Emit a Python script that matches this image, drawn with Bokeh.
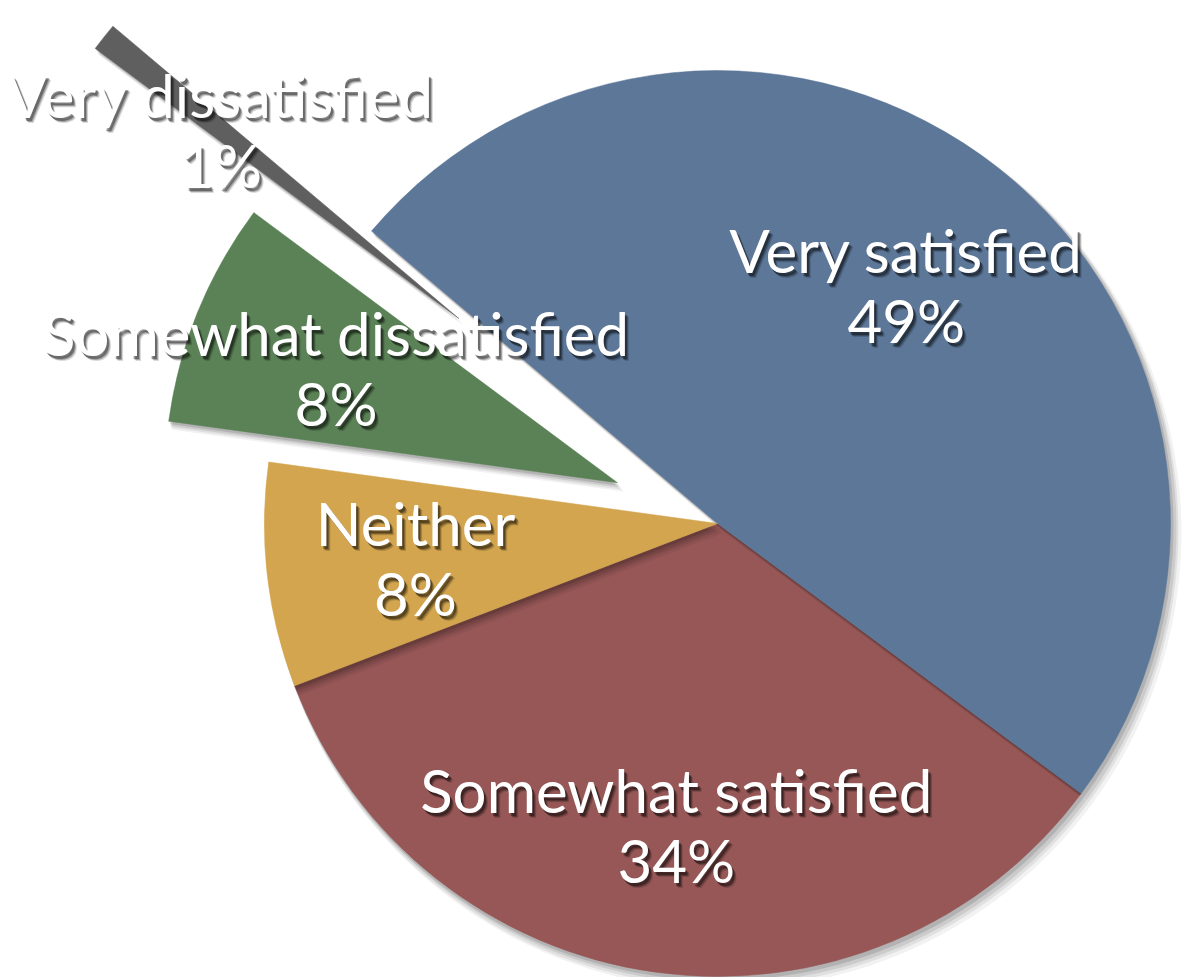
import numpy as np
from bokeh.plotting import figure
from bokeh.models import ColumnDataSource, Range1d
from bokeh.core.properties import value
from bokeh.embed import file_html
from bokeh.resources import INLINE

# ---- data (counter-clockwise order starting at lower left) ----
categories = ["Somewhat satisfied", "Very satisfied", "Very dissatisfied",
              "Somewhat dissatisfied", "Neither"]
percents = [34, 49, 1, 8, 8]
pct_labels = ["34%", "49%", "1%", "8%", "8%"]

# ---- styling ----
colors = ["#975757", "#5c7798", "#5f5f5f", "#5b8256", "#d3a54e"]
explode = [0, 0, 330, 108, 0]          # pixels along the bisector
draw_order = [0, 1, 4, 3, 2]

W, H = 1194, 977
CX, CY = 717, 454        # pie centre in data (pixel) units
R = 453
START_DEG = -159.0
LABEL_R = 304
LINE_GAP = 35
FONT = "Lato"
FSIZE = "60px"

total = float(sum(percents))
ends = START_DEG + np.cumsum(percents) / total * 360.0
starts = np.concatenate([[START_DEG], ends[:-1]])
mids = np.deg2rad((starts + ends) / 2.0)
cx = CX + np.array(explode) * np.cos(mids)
cy = CY + np.array(explode) * np.sin(mids)
lx = cx + LABEL_R * np.cos(mids)
ly = cy + LABEL_R * np.sin(mids)

p = figure(width=W, height=H, output_backend="svg", toolbar_location=None,
           x_range=Range1d(0, W), y_range=Range1d(0, H), min_border=0)
p.axis.visible = False
p.grid.visible = False
p.outline_line_color = None
p.background_fill_color = "white"
p.border_fill_color = "white"

shadow_layers = [(7, -9, 4, 0.05), (5, -7, 3, 0.07), (4, -5, 2, 0.09), (2, -3, 1, 0.12)]

for i in draw_order:
    src = ColumnDataSource(dict(x=[cx[i]], y=[cy[i]],
                                s=[np.deg2rad(starts[i])], e=[np.deg2rad(ends[i])]))
    for dx, dy, dr, a in shadow_layers:
        p.wedge(x=dx + cx[i], y=dy + cy[i], radius=R + dr,
                start_angle=np.deg2rad(starts[i]), end_angle=np.deg2rad(ends[i]),
                fill_color="black", fill_alpha=a, line_color=None)
    p.wedge(x="x", y="y", radius=R, start_angle="s", end_angle="e", source=src,
            fill_color=colors[i], line_color=colors[i], line_width=0.5)

lab = ColumnDataSource(dict(x=lx, y1=ly + LINE_GAP, y2=ly - LINE_GAP,
                            name=categories, pct=pct_labels))

text_shadows = [(4, -5, 0.15), (3, -4, 0.25), (2, -3, 0.35)]
for dx, dy, a in text_shadows:
    for ycol, tcol in (("y1", "name"), ("y2", "pct")):
        p.text(x="x", y=ycol, text=tcol, source=lab, x_offset=dx, y_offset=-dy,
               text_font=value(FONT), text_font_size=FSIZE, text_color="black",
               text_alpha=a, text_align="center", text_baseline="middle")

for ycol, tcol in (("y1", "name"), ("y2", "pct")):
    p.text(x="x", y=ycol, text=tcol, source=lab,
           text_font=value(FONT), text_font_size=FSIZE, text_color="white",
           text_align="center", text_baseline="middle")

open("out.html", "w").write(file_html(p, INLINE))
